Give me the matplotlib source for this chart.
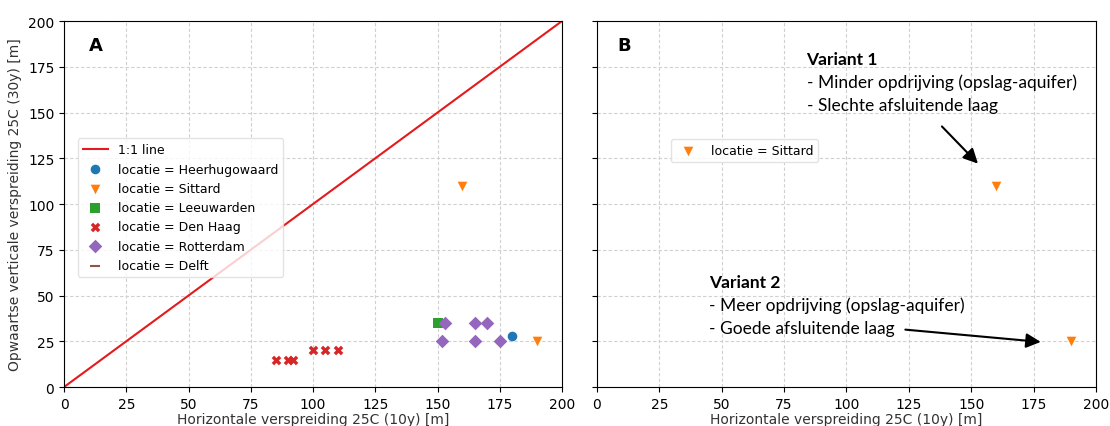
#!/usr/bin/env python3
# -*- coding: utf-8 -*-

import matplotlib
matplotlib.use('Agg')
import matplotlib.pyplot as plt
import numpy as np

# data per locatie: (horizontale verspreiding 10y, verticale verspreiding 30y)
heerhugowaard_x = [180]
heerhugowaard_y = [28]
sittard_x = [160, 190]
sittard_y = [110, 25]
leeuwarden_x = [150]
leeuwarden_y = [35]
denhaag_x = [85, 90, 92, 100, 105, 110]
denhaag_y = [15, 15, 15, 20, 20, 20]
rotterdam_x = [153, 165, 170, 152, 165, 175]
rotterdam_y = [35, 35, 35, 25, 25, 25]
delft_x = []
delft_y = []

locaties = ["Heerhugowaard", "Sittard", "Leeuwarden", "Den Haag", "Rotterdam", "Delft"]
xs = [heerhugowaard_x, sittard_x, leeuwarden_x, denhaag_x, rotterdam_x, delft_x]
ys = [heerhugowaard_y, sittard_y, leeuwarden_y, denhaag_y, rotterdam_y, delft_y]
markers = ['o', 'v', 's', 'X', 'D', '_']
colors = ['#1f77b4', '#ff7f0e', '#2ca02c', '#d62728', '#9467bd', '#8c564b']

variant1 = ["Variant 1", "- Minder opdrijving (opslag-aquifer)", "- Slechte afsluitende laag"]
variant2 = ["Variant 2", "- Meer opdrijving (opslag-aquifer)", "- Goede afsluitende laag"]

ticks = np.arange(0, 225, 25)

fig = plt.figure(figsize=(11.1, 4.27), dpi=100)
plt.rcParams.update({'font.size': 10})

ax1 = fig.add_axes([0.0577, 0.0913, 0.4486, 0.857])
ax2 = fig.add_axes([0.5378, 0.0913, 0.4495, 0.857])

for ax in (ax1, ax2):
	ax.set_xlim(0, 200)
	ax.set_ylim(0, 200)
	ax.set_xticks(ticks)
	ax.set_yticks(ticks)
	ax.grid(True, linestyle=(0, (3, 2)), color='#d0d0d0', linewidth=0.8)
	ax.set_axisbelow(True)
	ax.set_xlabel("Horizontale verspreiding 25C (10y) [m]", color='#333333', labelpad=1)

# A: alle locaties
ax1.plot([0, 200], [0, 200], color='#e41a1c', linewidth=1.5, label="1:1 line")
for naam, x, y, m, c in zip(locaties, xs, ys, markers, colors):
	ax1.scatter(x, y, marker=m, color=c, s=48, linewidths=0 if m != '_' else 1.5,
		label="locatie = " + naam)
ax1.set_ylabel("Opwaartse verticale verspreiding 25C (30y) [m]", color='#333333')
ax1.text(10, 187, "A", fontsize=13, fontweight='bold', va='center')
ax1.legend(loc='center left', bbox_to_anchor=(0.015, 0.49), fontsize=9,
	framealpha=0.8, edgecolor='#dddddd')

# B: alleen Sittard met varianten
ax2.scatter(sittard_x, sittard_y, marker='v', color=colors[1], s=48, linewidths=0,
	label="locatie = Sittard")
ax2.set_yticklabels([])
ax2.text(8, 187, "B", fontsize=13, fontweight='bold', va='center')
ax2.legend(loc='center left', bbox_to_anchor=(0.135, 0.645), fontsize=9,
	framealpha=0.8, edgecolor='#dddddd')

fnt = 'Lato'
for i, regel in enumerate(variant1):
	ax2.text(84, 179.2 - i * 12.6, regel, fontsize=12.5, family=fnt, va='center',
		fontweight='bold' if i == 0 else 'normal')
ax2.annotate("", xy=(153.5, 121), xytext=(137.5, 143.5),
	arrowprops=dict(arrowstyle='-|>', color='black', lw=1.5, mutation_scale=22))

for i, regel in enumerate(variant2):
	ax2.text(45, 57.4 - i * 12.6, regel, fontsize=12.5, family=fnt, va='center',
		fontweight='bold' if i == 0 else 'normal')
ax2.annotate("", xy=(179, 24.5), xytext=(122.5, 31.5),
	arrowprops=dict(arrowstyle='-|>', color='black', lw=1.5, mutation_scale=22))

plt.savefig("out.png", dpi=100)
